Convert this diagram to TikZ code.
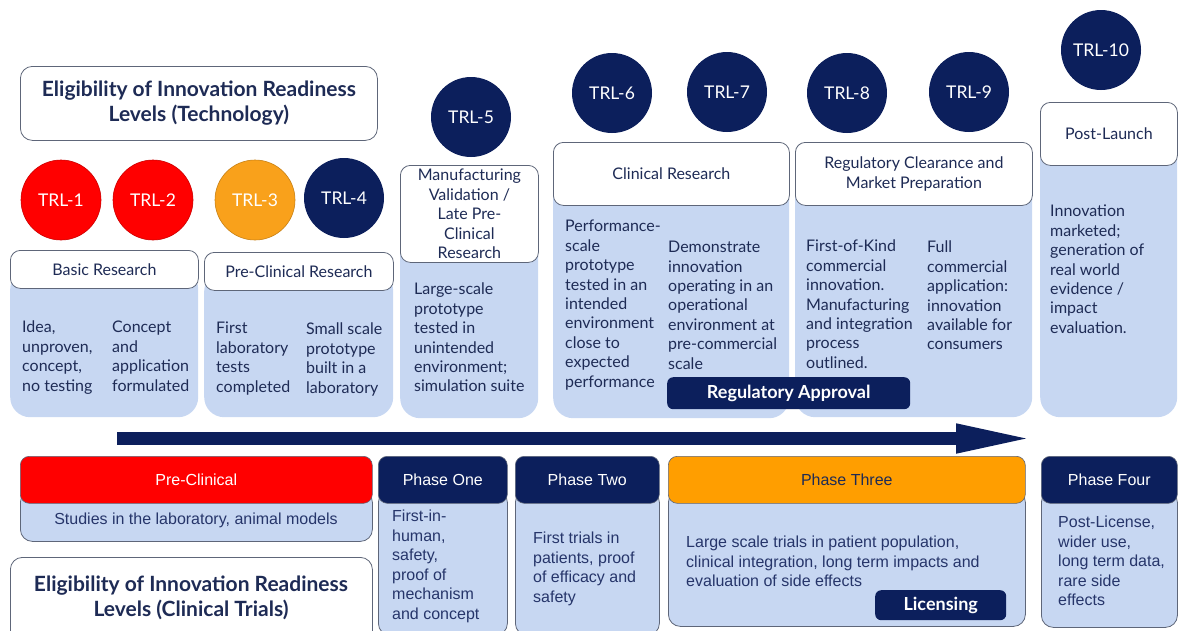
\documentclass[tikz,border=0pt]{standalone}
\usepackage{fontspec}
\setmainfont{Lato}
\newfontfamily\arial{Liberation Sans}
\usetikzlibrary{arrows.meta}
\definecolor{navy}{HTML}{0C1F5C}
\definecolor{trlred}{HTML}{FF0000}
\definecolor{trlorange}{HTML}{F9A11B}
\definecolor{phorange}{HTML}{FF9E00}
\definecolor{lblue}{HTML}{C7D7F2}
\definecolor{txt}{HTML}{1E2B55}
\definecolor{btxt}{HTML}{26356A}
\definecolor{bord}{HTML}{5E6679}
\begin{document}
\begin{tikzpicture}[x=1pt,y=-1pt,
  hdr/.style={draw=bord, fill=white, rounded corners=10pt, line width=0.8pt, text=txt, align=center, inner sep=0pt, anchor=north west, font=\fontsize{16}{19.4}\selectfont},
  tbody/.style={fill=lblue, rounded corners=20pt, inner sep=0pt, anchor=north west},
  trl/.style={circle, minimum size=80pt, inner sep=0pt, text=white, font=\fontsize{17.5}{19}\selectfont},
  ptxt/.style={text=txt, align=left, anchor=north west, inner sep=0pt, font=\fontsize{16}{19.4}\selectfont},
  title/.style={draw=bord, fill=white, rounded corners=12pt, line width=0.8pt, text=txt, align=center, inner sep=0pt, anchor=north west, font=\fontsize{21}{25}\selectfont\bfseries},
  darkbox/.style={fill=navy, rounded corners=6pt, text=white, inner sep=0pt, anchor=north west, font=\fontsize{18}{19}\selectfont\bfseries},
  phhdr/.style={draw=bord, line width=0.6pt, rounded corners=9pt, inner sep=0pt, anchor=north west, font=\arial\fontsize{16}{18}\selectfont},
  phbody/.style={draw=bord, line width=0.8pt, fill=lblue, rounded corners=12pt, inner sep=0pt, anchor=north west},
  btext/.style={text=btxt, align=left, anchor=north west, inner sep=0pt, font=\arial\fontsize{16}{19.5}\selectfont}
]
\useasboundingbox (0,0) rectangle (1178,630);
\clip (0,0) rectangle (1178,630);

% ---------- top title
\node[title, minimum width=357pt, minimum height=74pt] (title1) at (20,66) {Eligibility of Innovation Readiness\\Levels (Technology)};

% ---------- TRL circles
\node[trl, fill=trlred, draw=red!80!black, line width=0.6pt] (t1) at (61,200) {TRL-1};
\node[trl, fill=trlred, draw=red!80!black, line width=0.6pt] (t2) at (153,200) {TRL-2};
\node[trl, fill=trlorange, draw=trlorange!80!black, line width=0.6pt] (t3) at (255,200) {TRL-3};
\node[trl, fill=navy] (t4) at (344,198) {TRL-4};
\node[trl, fill=navy] (t5) at (471,117) {TRL-5};
\node[trl, fill=navy] (t6) at (612,93) {TRL-6};
\node[trl, fill=navy] (t7) at (727,92) {TRL-7};
\node[trl, fill=navy] (t8) at (847,93) {TRL-8};
\node[trl, fill=navy] (t9) at (969,92) {TRL-9};
\node[trl, fill=navy] (t10) at (1101,50) {TRL-10};

% ---------- columns: bodies
\node[tbody, minimum width=188pt, minimum height=148pt] (b1) at (10,269) {};
\node[tbody, minimum width=189pt, minimum height=146pt] (b2) at (204,271) {};
\node[tbody, minimum width=138pt, minimum height=204pt] (b3) at (400,214) {};
\node[tbody, minimum width=236pt, minimum height=245pt] (b4) at (553,173) {};
\node[tbody, minimum width=237pt, minimum height=244pt] (b5) at (795,173) {};
\node[tbody, minimum width=137pt, minimum height=284pt] (b6) at (1040,133) {};

% ---------- column headers
\node[hdr, minimum width=188pt, minimum height=38pt] (h1) at (10,250) {Basic Research};
\node[hdr, minimum width=189pt, minimum height=38pt] (h2) at (204,252) {Pre-Clinical Research};
\node[hdr, minimum width=138pt, minimum height=97pt] (h3) at (400,165) {Manufacturing\\Validation /\\Late Pre-\\Clinical\\Research};
\node[hdr, minimum width=236pt, minimum height=63pt] (h4) at (553,142) {Clinical Research};
\node[hdr, minimum width=237pt, minimum height=63pt] (h5) at (795,142) {Regulatory Clearance and\\Market Preparation};
\node[hdr, minimum width=137pt, minimum height=63pt] (h6) at (1040,102) {Post-Launch};

% ---------- column texts
\node[ptxt] (x1a) at (22,321) {Idea,\\unproven,\\concept,\\no testing};
\node[ptxt] (x1b) at (112,321) {Concept\\and\\application\\formulated};
\node[ptxt] (x2a) at (216,322) {First\\laboratory\\tests\\completed};
\node[ptxt] (x2b) at (306,323) {Small scale\\prototype\\built in a\\laboratory};
\node[ptxt] (x3) at (414,283) {Large-scale\\prototype\\tested in\\unintended\\environment;\\simulation suite};
\node[ptxt] (x4a) at (565,220) {Performance-\\scale\\prototype\\tested in an\\intended\\environment\\close to\\expected\\performance};
\node[ptxt] (x4b) at (668,241) {Demonstrate\\innovation\\operating in an\\operational\\environment at\\pre-commercial\\scale};
\node[ptxt] (x5a) at (806,240) {First-of-Kind\\commercial\\innovation.\\Manufacturing\\and integration\\process\\outlined.};
\node[ptxt] (x5b) at (927,241) {Full\\commercial\\application:\\innovation\\available for\\consumers};
\node[ptxt] (x6) at (1050,205) {Innovation\\marketed;\\generation of\\real world\\evidence /\\impact\\evaluation.};

\node[darkbox, minimum width=243pt, minimum height=32pt] (regapp) at (667,377) {Regulatory Approval};

% ---------- arrow
\coordinate (arrS) at (117,438.5);
\coordinate (arrE) at (1036,438.5);
\draw[navy, line width=13pt, -{Triangle[length=80pt,width=26pt]}] (arrS) -- (arrE);

% ---------- bottom phases: bodies
\node[phbody, minimum width=352pt, minimum height=51pt] (pb0) at (20,490) {};
\node[phbody, minimum width=129pt, minimum height=145pt] (pb1) at (378,490) {};
\node[phbody, minimum width=144pt, minimum height=145pt] (pb2) at (515,490) {};
\node[phbody, minimum width=357pt, minimum height=136pt] (pb3) at (668,490) {};
\node[phbody, minimum width=136pt, minimum height=137pt] (pb4) at (1041,490) {};

% ---------- bottom phases: headers
\node[phhdr, fill=trlred, text=white, minimum width=352pt, minimum height=47pt] (ph0) at (20,456) {Pre-Clinical};
\node[phhdr, fill=navy, text=white, minimum width=129pt, minimum height=47pt] (ph1) at (378,456) {Phase One};
\node[phhdr, fill=navy, text=white, minimum width=144pt, minimum height=47pt] (ph2) at (515,456) {Phase Two};
\node[phhdr, fill=phorange, text=txt, minimum width=357pt, minimum height=47pt] (ph3) at (668,456) {Phase Three};
\node[phhdr, fill=navy, text=white, minimum width=136pt, minimum height=47pt] (ph4) at (1041,456) {Phase Four};

% ---------- bottom texts
\node[btext, anchor=center] (q0) at (196,520) {Studies in the laboratory, animal models};
\node[btext] (q1) at (392,510) {First-in-\\human,\\safety,\\proof of\\mechanism\\and concept};
\node[btext] (q2) at (533,532) {First trials in\\patients, proof\\of efficacy and\\safety};
\node[btext] (q3) at (686,536) {Large scale trials in patient population,\\clinical integration, long term impacts and\\evaluation of side effects};
\node[btext] (q4) at (1058,516) {Post-License,\\wider use,\\long term data,\\rare side\\effects};

\node[darkbox, minimum width=131pt, minimum height=30pt] (lic) at (875,590) {Licensing};

% ---------- bottom title
\node[title, minimum width=362pt, minimum height=100pt] (title2) at (10,557) {};
\node[text=txt, align=center, inner sep=0pt, font=\fontsize{21}{25}\selectfont\bfseries] (title2t) at (191,597.5) {Eligibility of Innovation Readiness\\Levels (Clinical Trials)};
\end{tikzpicture}
\end{document}
